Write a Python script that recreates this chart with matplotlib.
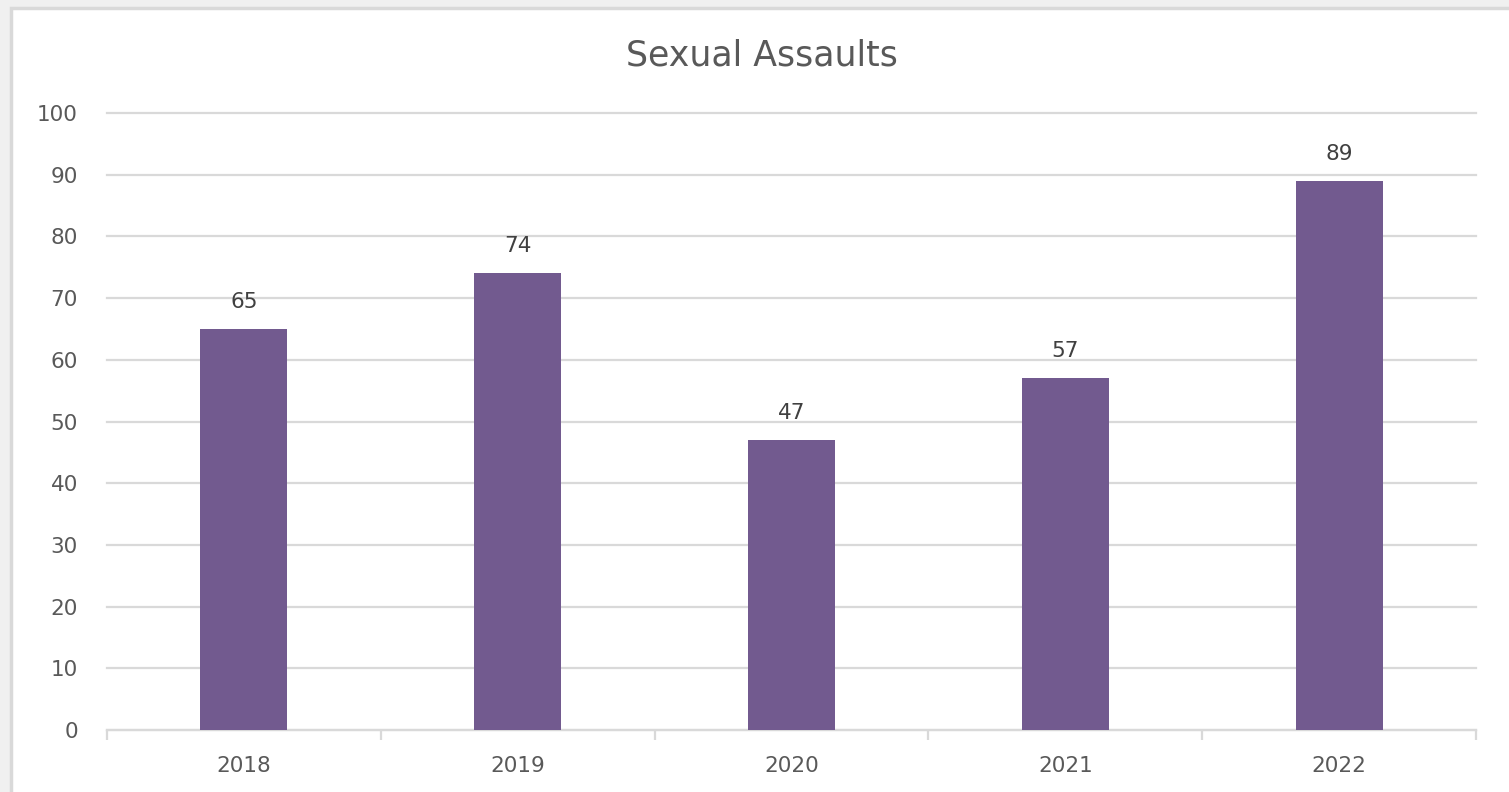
import matplotlib.pyplot as plt
from matplotlib.patches import Rectangle
import numpy as np

years = ['2018', '2019', '2020', '2021', '2022']
counts = [65, 74, 47, 57, 89]
yticks = [0, 10, 20, 30, 40, 50, 60, 70, 80, 90, 100]

W, H = 1509, 792
fig = plt.figure(figsize=(W / 100, H / 100), dpi=100, facecolor='#f0f0f0')

# white chart panel with grey frame
fig.patches.append(Rectangle((11 / W, -0.05), 1.1, 1.05 - 8 / H, transform=fig.transFigure,
                             facecolor='white', edgecolor='#d9d9d9', linewidth=2.5,
                             zorder=-10))

ax = fig.add_axes([107 / W, (H - 730) / H, (1476 - 107) / W, (730 - 113) / H])
ax.set_zorder(1)
ax.set_facecolor('none')

x = np.arange(len(years))
ax.bar(x, counts, width=0.318, color='#725a8f', zorder=3)
for xi, v in zip(x, counts):
    ax.text(xi, v + 4.4, str(v), ha='center', va='center', fontsize=15.5,
            color='#404040', zorder=4)

ax.set_xlim(-0.5, len(years) - 0.5)
ax.set_ylim(0, 100)
ax.set_yticks(yticks)
ax.yaxis.grid(True, color='#d9d9d9', linewidth=1.6)
for gl in ax.get_ygridlines():
    gl.set_clip_on(False)
ax.set_axisbelow(True)

ax.set_xticks(x)
ax.set_xticklabels(years)
ax.set_xticks(np.arange(-0.5, len(years)), minor=True)
ax.tick_params(axis='x', which='major', length=0, pad=19, labelsize=15.5,
               labelcolor='#595959')
ax.tick_params(axis='x', which='minor', length=7, width=1.6, color='#d9d9d9')
ax.tick_params(axis='y', length=0, pad=21, labelsize=15.5, labelcolor='#595959')

for s in ['top', 'right', 'left']:
    ax.spines[s].set_visible(False)
ax.spines['bottom'].set_color('#d9d9d9')
ax.spines['bottom'].set_linewidth(1.6)

fig.text(762 / W, 1 - 56 / H, 'Sexual Assaults', ha='center', va='center',
         fontsize=25, color='#595959')

fig.savefig('out.png', dpi=100, facecolor=fig.get_facecolor())
